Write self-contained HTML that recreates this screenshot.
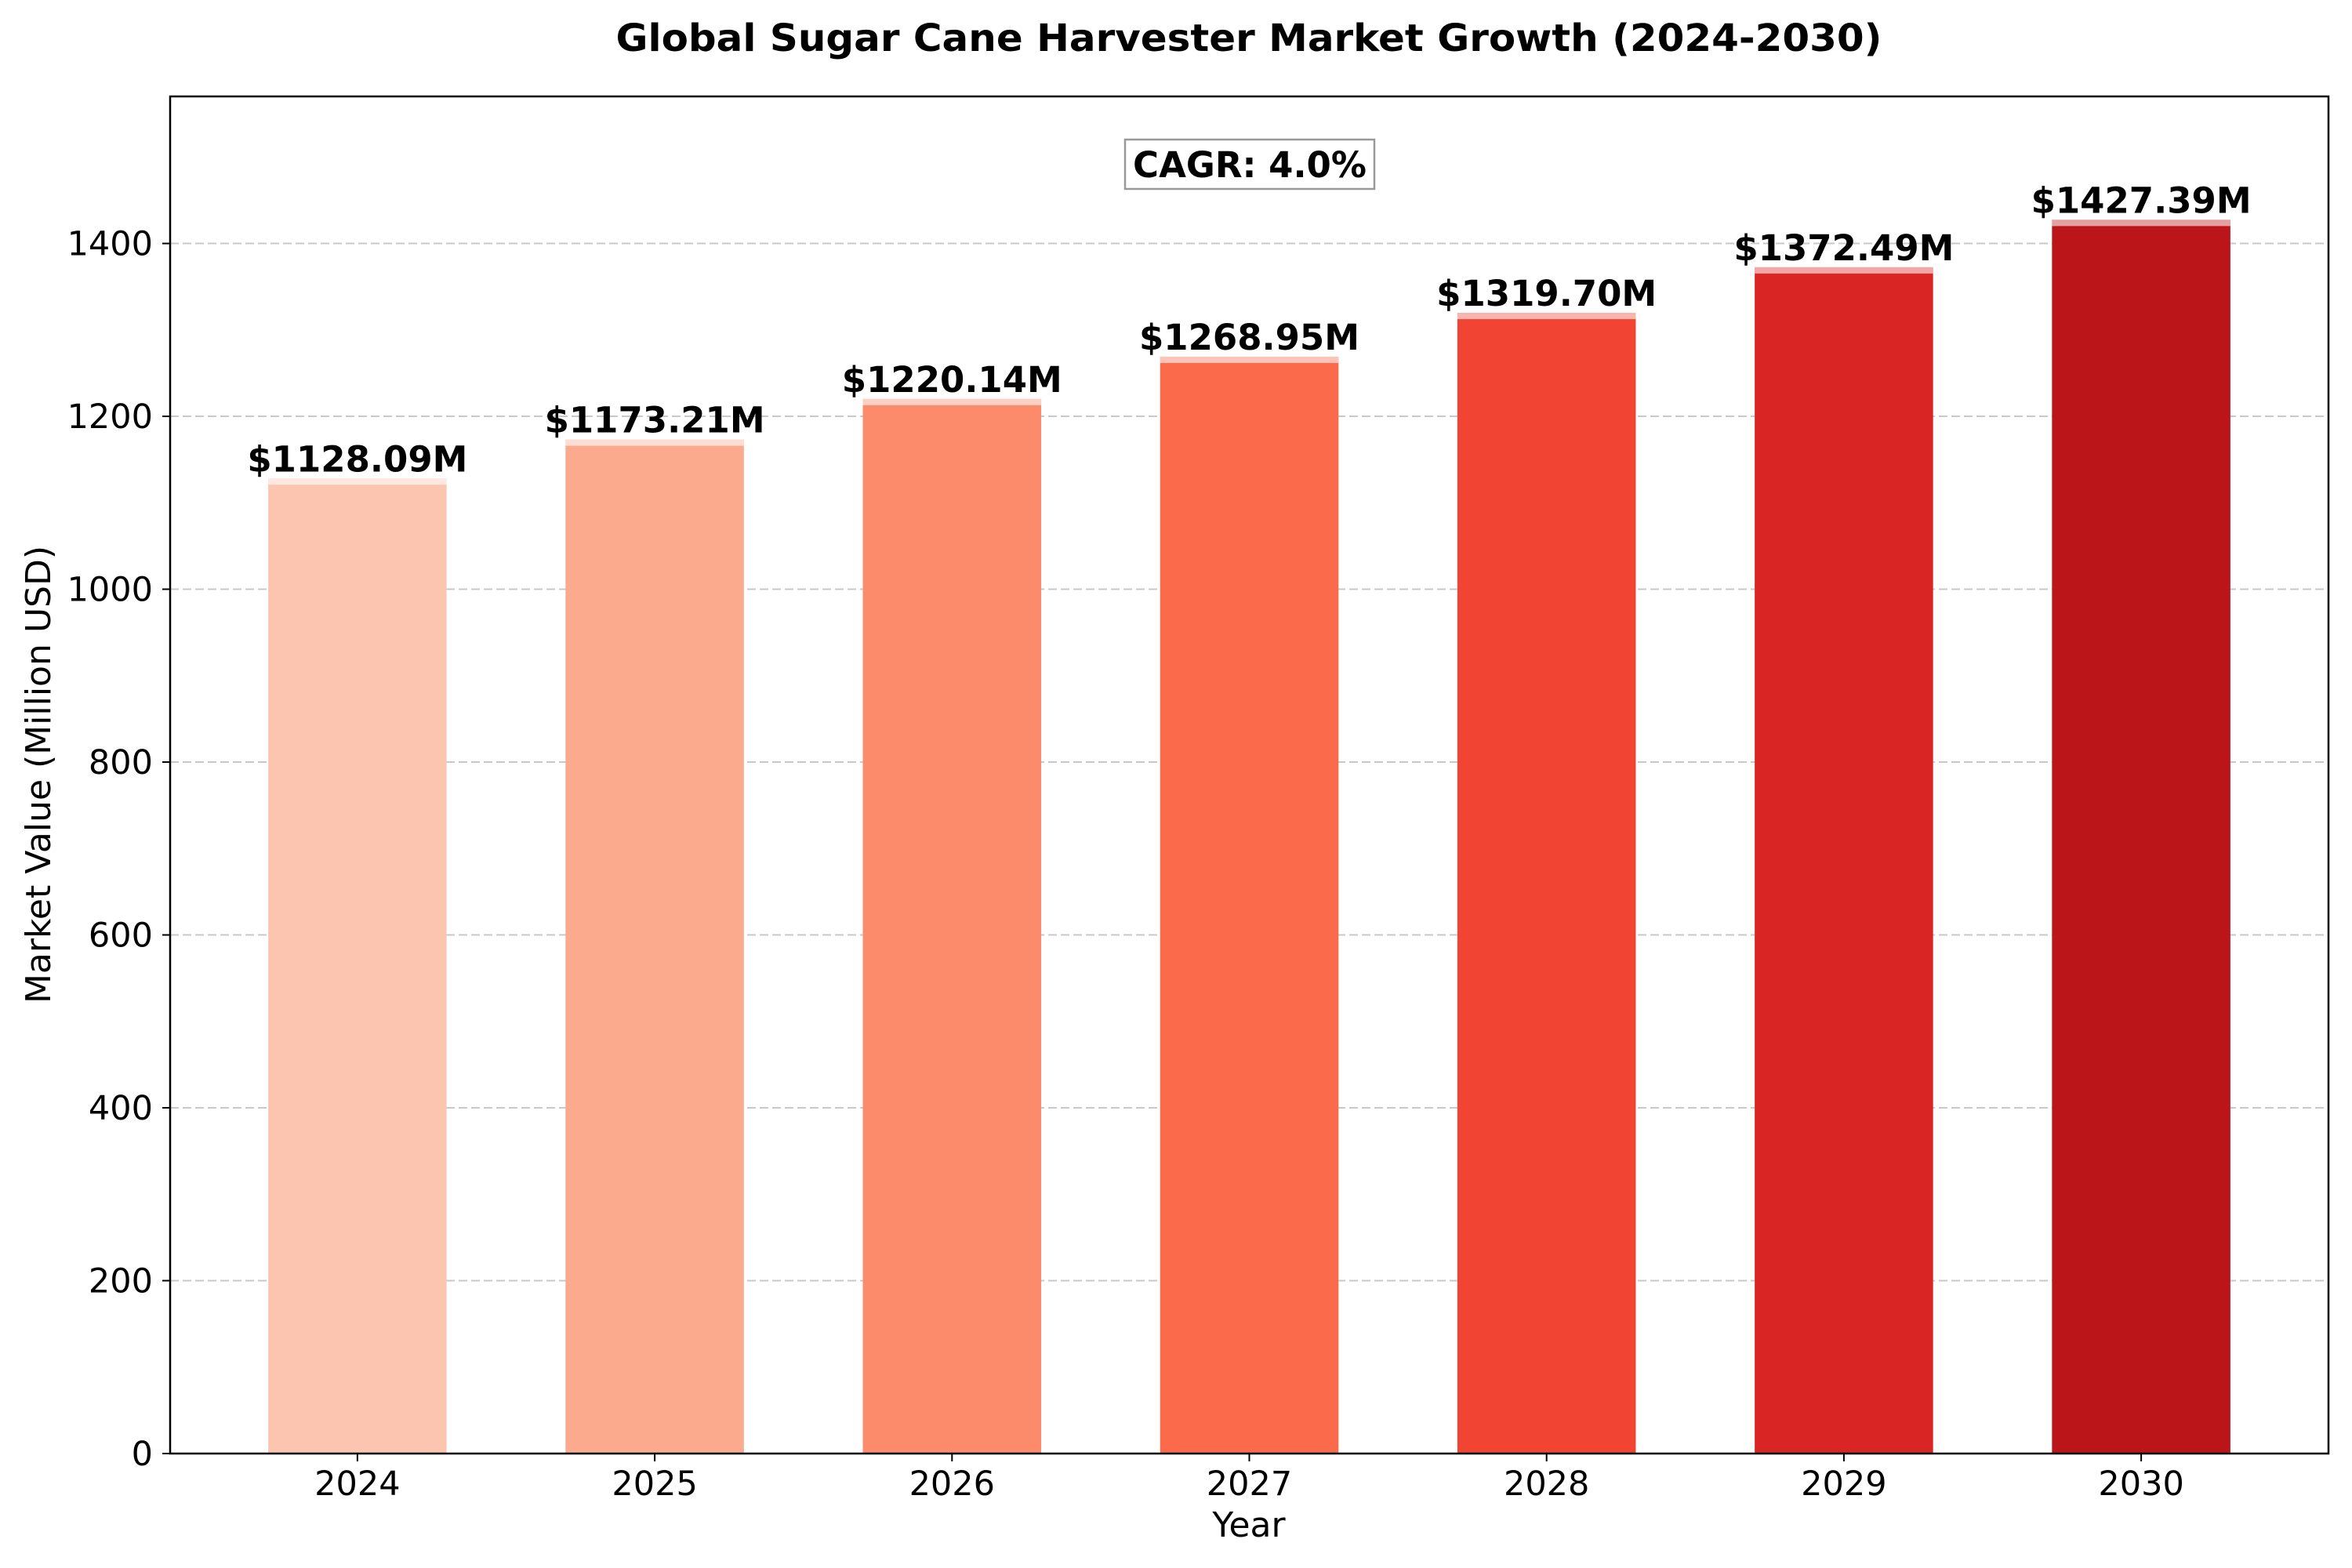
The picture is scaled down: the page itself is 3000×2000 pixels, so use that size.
<!DOCTYPE html>
<html><head><meta charset="utf-8"><style>
html,body{margin:0;padding:0;background:#fff;}
svg{display:block;font-family:"DejaVu Sans","Liberation Sans",sans-serif;}
</style></head><body>
<svg id="chart" width="3000" height="2000" viewBox="0 0 3000 2000" xmlns="http://www.w3.org/2000/svg">
<rect width="3000" height="2000" fill="#fff"/>
<text x="1593" y="65" text-anchor="middle" font-size="48" font-weight="bold" textLength="1615" lengthAdjust="spacingAndGlyphs">Global Sugar Cane Harvester Market Growth (2024-2030)</text>
<g id="grid"></g>
<g id="bars"></g>
<g id="yticks"></g>
<g id="xticks"></g>
<rect x="217" y="123" width="2753" height="1731" fill="none" stroke="#000" stroke-width="2.5"/>
<rect x="1435" y="178" width="318" height="63" fill="#fff" stroke="#999" stroke-width="2.5"/>
<text x="1594" y="226" text-anchor="middle" font-size="45" font-weight="bold">CAGR: 4.0%</text>
<text x="1593" y="1960" text-anchor="middle" font-size="44">Year</text>
<text x="0" y="0" transform="translate(64,988) rotate(-90)" text-anchor="middle" font-size="44">Market Value (Million USD)</text>
</svg>
<script>
const categories = ["2024","2025","2026","2027","2028","2029","2030"];
const values = [1128.09,1173.21,1220.14,1268.95,1319.70,1372.49,1427.39];
const valueLabels = ["$1128.09M","$1173.21M","$1220.14M","$1268.95M","$1319.70M","$1372.49M","$1427.39M"];
const yTicks = [0,200,400,600,800,1000,1200,1400];
const colors = ["#fcc5b0","#fcaa8e","#fc8b6b","#fb6a4a","#f14432","#d92523","#bb151a"];

const NS="http://www.w3.org/2000/svg";
const L=217,R=2970,T=123,B=1854;
const yMax=Math.max(...values)*1.1;
const xMin=-0.63,xMax=categories.length-1+0.63;
const xs=i=>L+(i-xMin)/(xMax-xMin)*(R-L);
const ys=v=>B-v/yMax*(B-T);
const barW=0.6*(R-L)/(xMax-xMin);
function mk(tag,attrs,parent){const e=document.createElementNS(NS,tag);for(const k in attrs)e.setAttribute(k,attrs[k]);parent.appendChild(e);return e;}
const grid=document.getElementById('grid'),yt=document.getElementById('yticks'),xt=document.getElementById('xticks'),bars=document.getElementById('bars');
yTicks.forEach(v=>{
  const y=ys(v);
  if(v>0){const g=mk('line',{x1:L,x2:R,y1:y,y2:y,stroke:'#c8c8c8','stroke-width':2,'stroke-dasharray':'11,5'},grid);
  
  }
  const t=mk('line',{x1:L-10,x2:L,y1:y,y2:y,stroke:'#000','stroke-width':2},yt);
  
  
  const tx=mk('text',{x:L-22,y:y+15,'text-anchor':'end','font-size':43},yt);
  tx.textContent=v;
  
  
});
categories.forEach((c,i)=>{
  const cx=xs(i),top=ys(values[i]);
  const b=mk('rect',{x:cx-barW/2,y:top,width:barW,height:B-top,fill:colors[i]},bars);
  
  
  const s=mk('rect',{x:cx-barW/2,y:top,width:barW,height:8,fill:'#fff','fill-opacity':0.6},bars);
  
  
  const lb=mk('text',{x:cx,y:top-9,'text-anchor':'middle','font-size':45,'font-weight':'bold'},bars);
  lb.textContent=valueLabels[i];
  
  
  const t=mk('line',{x1:cx,x2:cx,y1:B,y2:B+10,stroke:'#000','stroke-width':2},xt);
  
  
  const tx=mk('text',{x:cx,y:B+53,'text-anchor':'middle','font-size':43},xt);
  tx.textContent=c;
  
  
});
</script>
</body></html>
